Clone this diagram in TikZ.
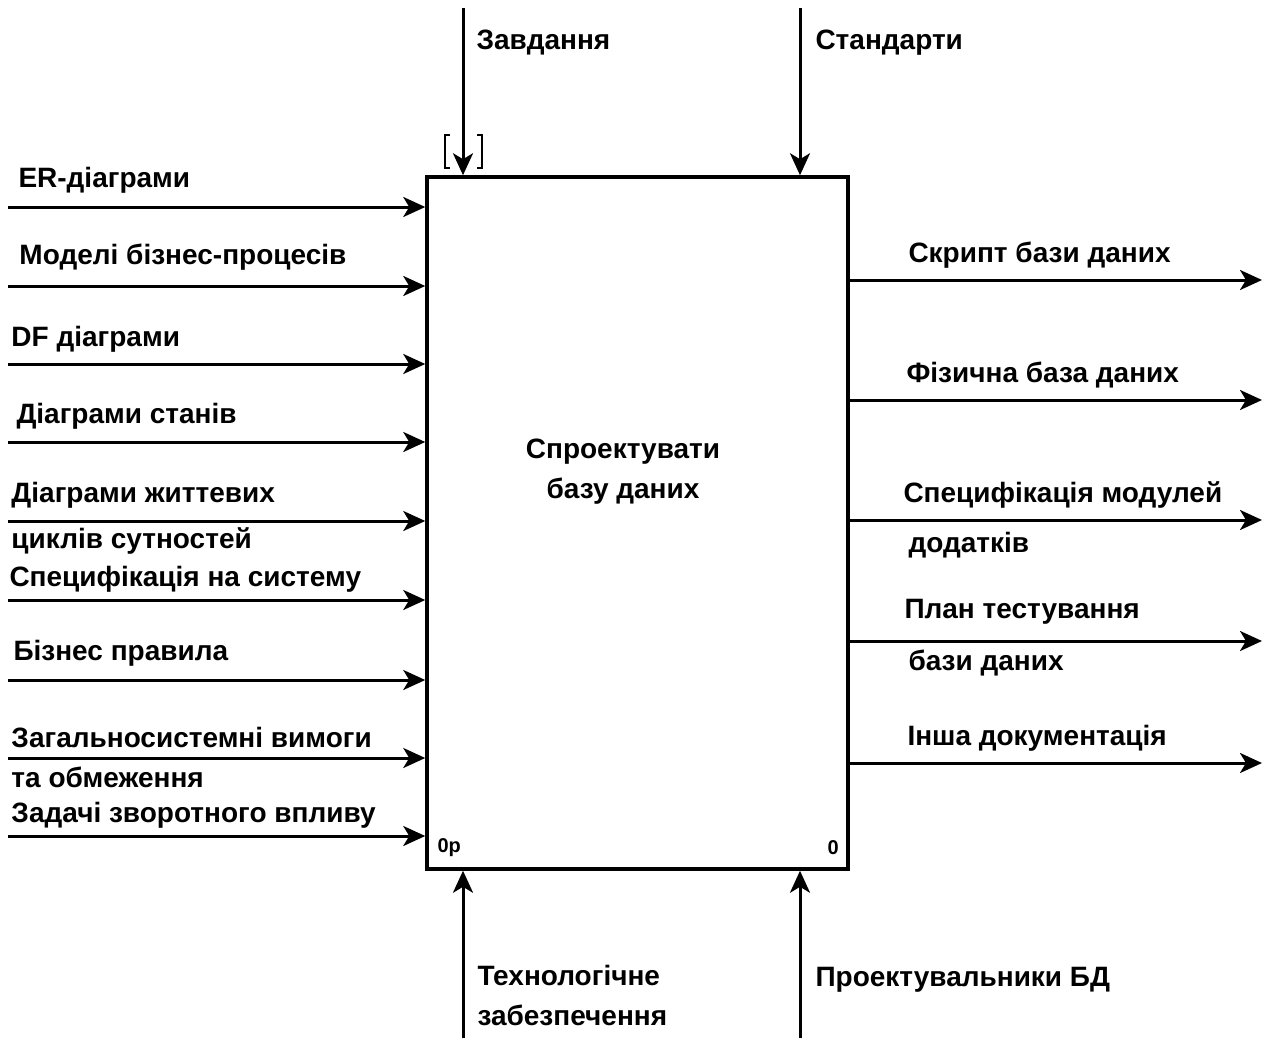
\documentclass[tikz,border=0pt]{standalone}
\usepackage{fontspec}
\setmainfont{Liberation Sans}
\usetikzlibrary{arrows.meta,positioning}

\begin{document}
\begin{tikzpicture}[x=1pt,y=-1pt,->,>={Stealth[length=22pt,width=20pt,inset=6pt]},line width=3pt,
  lbl/.style={anchor=west,inner sep=0pt,align=left,font=\bfseries\fontsize{28}{40}\selectfont},
  num/.style={anchor=west,inner sep=0pt,font=\bfseries\fontsize{20}{24}\selectfont},
  func/.style={draw,line width=3.5pt,minimum width=421pt,minimum height=692pt,inner sep=0pt}]
  \useasboundingbox (0,0) rectangle (1268,1038);

  \node[func] (box) at (637.5,523) {};
  \node[inner sep=0pt,align=center,font=\bfseries\fontsize{28}{40}\selectfont] (title) at (623,472) {Спроектувати\\базу даних};
  \node[num] (nl) at (436,848) {0p};
  \node[num] (nr) at (826,848) {0};

  % inputs
  \foreach \y [count=\i] in {207,286,364,442,521,600,680,758,836}
    \draw (8,\y) coordinate (in\i) -- (in\i -| box.west);
  \node[lbl] (i1) at (17,180) {ER-діаграми};
  \node[lbl] (i2) at (18,257) {Моделі бізнес-процесів};
  \node[lbl] (i3) at (10,339) {DF діаграми};
  \node[lbl] (i4) at (15,416) {Діаграми станів};
  \node[lbl] (i5) at (10,518) {Діаграми життевих\\[6pt]циклів сутностей};
  \node[lbl] (i6) at (8,579) {Специфікація на систему};
  \node[lbl] (i7) at (12,653) {Бізнес правила};
  \node[lbl] (i8) at (10,757) {Загальносистемні вимоги\\та обмеження};
  \node[lbl] (i9) at (10,815) {Задачі зворотного впливу};

  % outputs
  \foreach \y [count=\i] in {280,400,520,641,763}
    \draw (box.east |- 0,\y) coordinate (out\i) -- (1262,\y);
  \node[lbl] (o1) at (907,255) {Скрипт бази даних};
  \node[lbl] (o2) at (905,375) {Фізична база даних};
  \node[lbl] (o3) at (902,520) {Специфікація модулей\\[10pt]\hspace{5pt}додатків};
  \node[lbl] (o4) at (903,638) {План тестування\\[12pt]\hspace{4pt}бази даних};
  \node[lbl] (o5) at (906,738) {Інша документація};

  % controls
  \coordinate (c1) at (463,8);
  \coordinate (c2) at (800,8);
  \draw (c1) -- (c1 |- box.north);
  \draw (c2) -- (c2 |- box.north);
  \node[lbl] (t1) at (475,43) {Завдання};
  \node[lbl] (t2) at (814,43) {Стандарти};
  \draw[-,line width=2pt] (450,135) -- (445,135) -- (445,168) -- (450,168);
  \draw[-,line width=2pt] (477,135) -- (482,135) -- (482,168) -- (477,168);

  % mechanisms
  \coordinate (m1) at (463,1038);
  \coordinate (m2) at (800,1038);
  \draw (m1) -- (m1 |- box.south);
  \draw (m2) -- (m2 |- box.south);
  \node[lbl] (b1) at (476,995) {Технологічне\\забезпечення};
  \node[lbl] (b2) at (814,980) {Проектувальники БД};
\end{tikzpicture}
\end{document}
